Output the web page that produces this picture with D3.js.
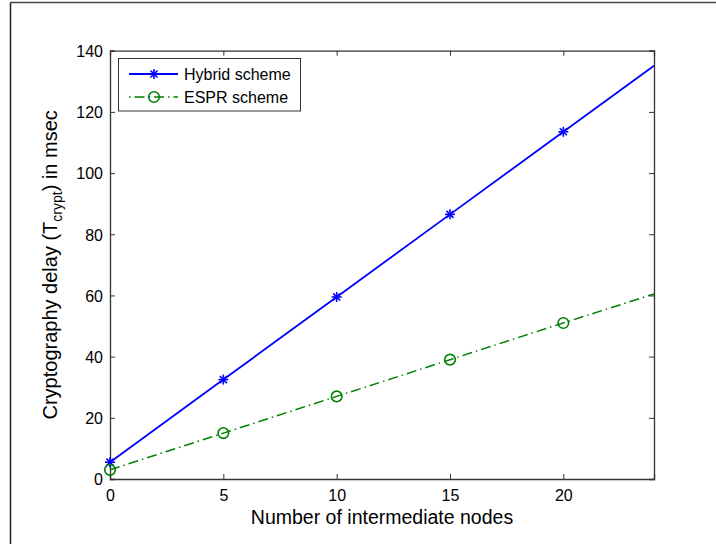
<!DOCTYPE html>
<html>
<head>
<meta charset="utf-8">
<script src="https://cdn.jsdelivr.net/npm/d3@7"></script>
<style>
  body { margin: 0; background: #fff; }
  svg { display: block; }
  text, tspan { font-family: "Liberation Sans", Arial, Helvetica, sans-serif; }
</style>
</head>
<body>
<svg id="chart" width="716" height="544"></svg>
<script>
// Data
const nodes = [0, 5, 10, 15, 20, 24];
const hybridDelay = [5.5, 32.5, 59.5, 86.5, 113.5, 135.1];
const esprDelay = [3.0, 15.0, 27.0, 39.0, 51.0, 60.5];
const markerNodes = [0, 5, 10, 15, 20];
const xTicks = [0, 5, 10, 15, 20];
const yTicks = [0, 20, 40, 60, 80, 100, 120, 140];
const seriesNames = ["Hybrid scheme", "ESPR scheme"];

const FONT = "'Liberation Sans', Arial, Helvetica, sans-serif";
const svg = d3.select("#chart");
const W = 716, H = 544;
const m = { left: 110, right: 654, top: 50.7, bottom: 479 };

// outer frame (top and left edges visible)
svg.append("line").attr("x1", 10.5).attr("x2", W).attr("y1", 2.5).attr("y2", 2.5)
  .attr("stroke", "#444").attr("stroke-width", 1.5);
svg.append("line").attr("x1", 10.5).attr("x2", 10.5).attr("y1", 2.5).attr("y2", H)
  .attr("stroke", "#222").attr("stroke-width", 1.5);

const x = d3.scaleLinear().domain([0, 24]).range([m.left, m.right]);
const y = d3.scaleLinear().domain([0, 140]).range([m.bottom, m.top]);

const axisColor = "#333";
const tickLen = 5;

// axes
const gx = svg.append("g").attr("transform", `translate(0,${m.bottom})`)
  .call(d3.axisBottom(x).tickValues(xTicks).tickSize(-tickLen).tickPadding(11).tickFormat(d3.format("d")));
const gxTop = svg.append("g").attr("transform", `translate(0,${m.top})`)
  .call(d3.axisTop(x).tickValues(xTicks).tickSize(-tickLen).tickFormat(""));
const gy = svg.append("g").attr("transform", `translate(${m.left},0)`)
  .call(d3.axisLeft(y).tickValues(yTicks).tickSize(-tickLen).tickPadding(7).tickFormat(d3.format("d")));
const gyR = svg.append("g").attr("transform", `translate(${m.right},0)`)
  .call(d3.axisRight(y).tickValues(yTicks).tickSize(-tickLen).tickFormat(""));

[gx, gxTop, gy, gyR].forEach(g => {
  g.select(".domain").attr("stroke", axisColor).attr("stroke-width", 1.3);
  g.selectAll(".tick line").attr("stroke", axisColor).attr("stroke-width", 1);
  g.selectAll("text").attr("fill", "#000").style("font-size", "16px")
    .style("font-family", FONT);
});
gy.selectAll(".tick text").attr("dy", "0.36em");

// axis labels
svg.append("text").attr("x", (m.left + m.right) / 2).attr("y", 524)
  .attr("text-anchor", "middle").style("font-family", FONT).style("font-size", "19.5px")
  .text("Number of intermediate nodes");

const yl = svg.append("text")
  .attr("transform", `translate(57,${(m.top + m.bottom) / 2}) rotate(-90)`)
  .attr("text-anchor", "middle").style("font-family", FONT).style("font-size", "20px");
yl.append("tspan").style("font-family", FONT).text("Cryptography delay (T");
yl.append("tspan").attr("dy", 5).style("font-family", FONT).style("font-size", "14px").text("crypt");
yl.append("tspan").attr("dy", -5).style("font-family", FONT).text(") in msec");

// lines
const line = d3.line().x(d => x(d[0])).y(d => y(d[1]));
const hybridPts = nodes.map((n, i) => [n, hybridDelay[i]]);
const esprPts = nodes.map((n, i) => [n, esprDelay[i]]);
const blue = "#0000ff", green = "#008000";

svg.append("path").datum(hybridPts).attr("d", line)
  .attr("fill", "none").attr("stroke", blue).attr("stroke-width", 1.8);
svg.append("path").datum(esprPts).attr("d", line)
  .attr("fill", "none").attr("stroke", green).attr("stroke-width", 1.5)
  .attr("stroke-dasharray", "10,4,1.5,4");

function star(g, cx, cy, r) {
  const s = g.append("g").attr("transform", `translate(${cx},${cy})`);
  [0, 45, 90, 135].forEach(a => {
    const rad = a * Math.PI / 180;
    s.append("line")
      .attr("x1", -r * Math.cos(rad)).attr("y1", -r * Math.sin(rad))
      .attr("x2", r * Math.cos(rad)).attr("y2", r * Math.sin(rad))
      .attr("stroke", blue).attr("stroke-width", 1.6);
  });
}
function circ(g, cx, cy) {
  g.append("circle").attr("cx", cx).attr("cy", cy).attr("r", 5.3)
    .attr("fill", "none").attr("stroke", green).attr("stroke-width", 1.6);
}

const mk = svg.append("g");
nodes.forEach((n, i) => {
  if (markerNodes.includes(n)) {
    star(mk, x(n), y(hybridDelay[i]), 5);
    circ(mk, x(n), y(esprDelay[i]));
  }
});

// legend
const lg = svg.append("g");
lg.append("rect").attr("x", 118.5).attr("y", 58.5).attr("width", 182).attr("height", 52.5)
  .attr("fill", "#fff").attr("stroke", "#333").attr("stroke-width", 1);
lg.append("line").attr("x1", 129).attr("x2", 178).attr("y1", 74).attr("y2", 74)
  .attr("stroke", blue).attr("stroke-width", 1.8);
star(lg, 154, 74, 5);
lg.append("line").attr("x1", 129).attr("x2", 178).attr("y1", 97).attr("y2", 97)
  .attr("stroke", green).attr("stroke-width", 1.5).attr("stroke-dasharray", "1.5,4,10,4");
circ(lg, 154, 97);
lg.append("text").attr("x", 184).attr("y", 74).attr("dy", "0.36em")
  .style("font-family", FONT).style("font-size", "16px").text(seriesNames[0]);
lg.append("text").attr("x", 184).attr("y", 97).attr("dy", "0.36em")
  .style("font-family", FONT).style("font-size", "16px").text(seriesNames[1]);
</script>
</body>
</html>
